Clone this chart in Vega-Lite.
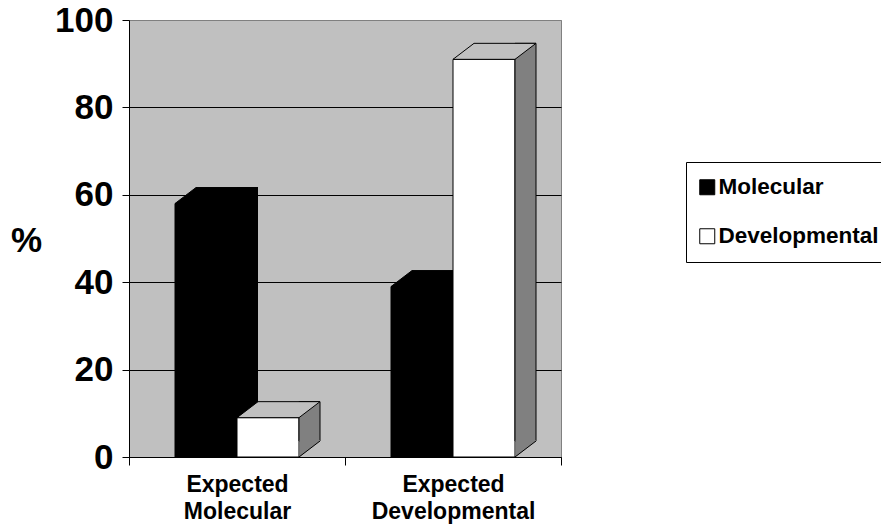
{
  "$schema": "https://vega.github.io/schema/vega-lite/v6.json",
  "width": 432,
  "height": 437,
  "autosize": {"type": "none"},
  "padding": {"left": 129, "top": 20, "right": 320, "bottom": 67},
  "background": "white",
  "config": {
    "view": {"fill": "#c0c0c0", "stroke": "#808080", "strokeWidth": 1},
    "font": "Liberation Sans"
  },
  "data": {
    "values": [
      {"group": "Expected Molecular", "series": "Molecular", "value": 58},
      {"group": "Expected Molecular", "series": "Developmental", "value": 9},
      {"group": "Expected Developmental", "series": "Molecular", "value": 39},
      {"group": "Expected Developmental", "series": "Developmental", "value": 91}
    ]
  },
  "encoding": {
    "x": {
      "field": "group",
      "type": "nominal",
      "sort": ["Expected Molecular", "Expected Developmental"],
      "scale": {"paddingInner": 0, "paddingOuter": 0},
      "axis": {
        "title": null,
        "labelAngle": 0,
        "labelFontSize": 23,
        "labelFontWeight": "bold",
        "labelColor": "black",
        "labelExpr": "split(datum.label, ' ')",
        "labelLineHeight": 27,
        "labelPadding": 8,
        "labelBaseline": "top",
        "tickSize": 8,
        "tickColor": "black",
        "domainColor": "black",
        "tickBand": "extent"
      }
    },
    "y": {
      "field": "value",
      "type": "quantitative",
      "scale": {"domain": [0, 100], "nice": false},
      "axis": {
        "title": "%",
        "titleAngle": 0,
        "titleFontSize": 35,
        "titleFontWeight": "bold",
        "titleColor": "black",
        "titleX": -103,
        "titleY": 220,
        "titleAlign": "center",
        "titleBaseline": "middle",
        "values": [0, 20, 40, 60, 80, 100],
        "labelFontSize": 35,
        "labelFontWeight": "bold",
        "labelColor": "black",
        "labelPadding": 9,
        "tickSize": 7,
        "tickColor": "black",
        "domainColor": "black",
        "grid": true,
        "gridColor": {"condition": {"test": "datum.value === 100", "value": "#808080"}, "value": "black"},
        "gridOpacity": 1
      }
    }
  },
  "layer": [
    {
      "transform": [{"filter": "datum.series === 'Molecular'"}],
      "mark": {"type": "bar", "width": 21, "xOffset": 10.5, "yOffset": -16, "y2Offset": -16, "fill": "black"}
    },
    {
      "transform": [{"filter": "datum.series === 'Molecular'"}],
      "mark": {"type": "point", "shape": "M-62,0L0,0L21,-16L-41,-16Z", "size": 4, "filled": true, "fill": "black", "stroke": "black", "strokeWidth": 1, "opacity": 1}
    },
    {
      "mark": {"type": "bar", "stroke": "black", "strokeWidth": 1},
      "encoding": {
        "xOffset": {
          "field": "series",
          "type": "nominal",
          "sort": ["Molecular", "Developmental"],
          "scale": {"paddingInner": 0, "paddingOuter": 0.742}
        },
        "color": {
          "field": "series",
          "type": "nominal",
          "scale": {"domain": ["Molecular", "Developmental"], "range": ["black", "white"]},
          "legend": {
            "title": null,
            "orient": "none",
            "legendX": 557,
            "legendY": 142,
            "symbolType": "square",
            "symbolSize": 225,
            "symbolStrokeColor": "black",
            "symbolStrokeWidth": 1,
            "symbolOpacity": 1,
            "labelFontSize": 22.5,
            "labelFontWeight": "bold",
            "labelColor": "black",
            "labelOffset": 0,
            "labelLimit": 300,
            "padding": 14,
            "rowPadding": 26,
            "strokeColor": "black",
            "fillColor": "white",
            "symbolOffset": -4
          }
        }
      }
    },
    {
      "transform": [{"filter": "datum.series === 'Developmental'"}],
      "mark": {"type": "bar", "width": 21, "xOffset": 72.5, "yOffset": -16, "y2Offset": -16, "fill": "#808080", "stroke": "black", "strokeWidth": 1}
    },
    {
      "transform": [{"filter": "datum.series === 'Developmental'"}],
      "mark": {"type": "point", "shape": "M62.5,0L62.5,-17L83,-17L83,-16Z", "size": 4, "filled": true, "fill": "#808080", "strokeWidth": 0, "opacity": 1},
      "encoding": {"y": {"datum": 0, "type": "quantitative"}}
    },
    {
      "transform": [{"filter": "datum.series === 'Developmental'"}],
      "mark": {"type": "point", "shape": "M62,0L83,-16", "size": 4, "filled": false, "stroke": "black", "strokeWidth": 1, "opacity": 1},
      "encoding": {"y": {"datum": 0, "type": "quantitative"}}
    },
    {
      "transform": [{"filter": "datum.series === 'Developmental'"}],
      "mark": {"type": "point", "shape": "M0,0L62,0L83,-16L21,-16Z", "size": 4, "filled": true, "fill": "#c0c0c0", "stroke": "black", "strokeWidth": 1, "opacity": 1}
    }
  ]
}
